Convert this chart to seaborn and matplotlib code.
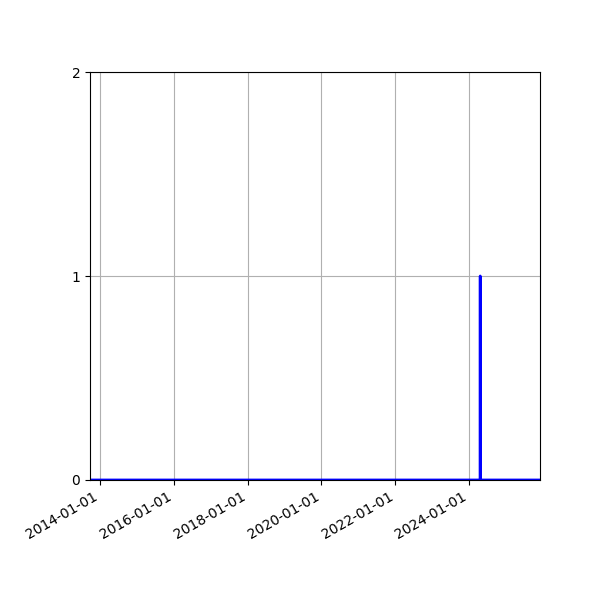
import pandas as pd
import matplotlib
matplotlib.use("Agg")
import matplotlib.pyplot as plt
import matplotlib.dates as mdates
import seaborn as sns

# series: flat at zero with a single one-day spike
dates = ["2013-09-25", "2024-04-18", "2024-04-19", "2024-04-20", "2025-12-01"]
counts = [0, 0, 1, 0, 0]
y_ticks = [0, 1, 2]

df = pd.DataFrame({"date": pd.to_datetime(dates), "count": counts})

plt.rcParams["font.family"] = ["DejaVu Sans"]
fig, ax = plt.subplots(figsize=(6, 6), dpi=100)
fig.subplots_adjust(left=0.15, right=0.9, top=0.88, bottom=0.2)

sns.lineplot(data=df, x="date", y="count", ax=ax, color="blue", linewidth=2)

ax.set_xlim(df["date"].min(), df["date"].max())
ax.set_ylim(0, 2)
ax.set_yticks(y_ticks)
ax.xaxis.set_major_locator(mdates.YearLocator(2))
ax.xaxis.set_major_formatter(mdates.DateFormatter("%Y-%m-%d"))
ax.grid(True, color="#b0b0b0", linewidth=0.8)
ax.set_xlabel("")
ax.set_ylabel("")
for label in ax.get_xticklabels():
    label.set_rotation(30)
    label.set_ha("right")

fig.savefig("out.png", dpi=100, facecolor="white")
